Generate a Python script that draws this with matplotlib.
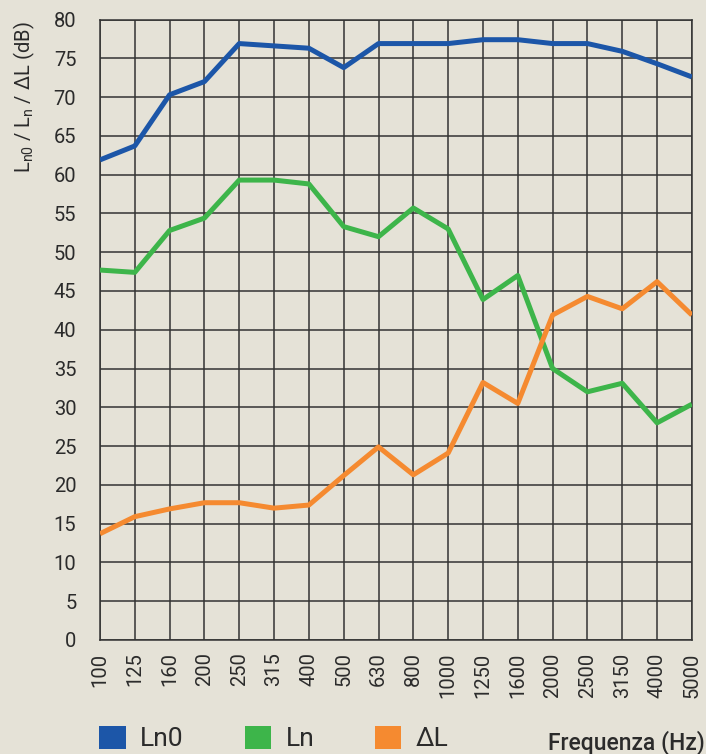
import matplotlib.pyplot as plt
from matplotlib.patches import Patch

plt.rcParams['font.family'] = ['Roboto', 'DejaVu Sans']

BG = '#e5e2d7'
COLOR_DICT = {'Ln0': '#1c56a8', 'Ln': '#3db54a', 'dL': '#f58a30'}

freqs = ['100', '125', '160', '200', '250', '315', '400', '500', '630', '800',
         '1000', '1250', '1600', '2000', '2500', '3150', '4000', '5000']
ln0 = [61.9, 63.7, 70.3, 72.0, 76.9, 76.6, 76.3, 73.8, 76.9, 76.9,
       76.9, 77.4, 77.4, 76.9, 76.9, 75.9, 74.3, 72.6]
ln = [47.7, 47.4, 52.8, 54.4, 59.3, 59.3, 58.8, 53.3, 52.0, 55.7,
      53.0, 43.9, 47.0, 35.0, 32.0, 33.1, 28.0, 30.4]
delta_l = [13.7, 15.9, 16.9, 17.7, 17.7, 17.0, 17.4, 21.2, 24.9, 21.3,
           24.1, 33.2, 30.5, 41.9, 44.3, 42.7, 46.2, 41.9]

fig = plt.figure(figsize=(7.06, 7.54), dpi=100, facecolor=BG)
ax = fig.add_axes([0.1416, 0.1512, 0.8384, 0.8229])
ax.set_facecolor(BG)

x = range(len(freqs))
ax.plot(x, ln0, color=COLOR_DICT['Ln0'], linewidth=3.6, solid_capstyle='butt', zorder=3)
ax.plot(x, ln, color=COLOR_DICT['Ln'], linewidth=3.6, solid_capstyle='butt', zorder=3)
ax.plot(x, delta_l, color=COLOR_DICT['dL'], linewidth=3.6, solid_capstyle='butt', zorder=3)

ax.set_xlim(0, len(freqs) - 1)
ax.set_ylim(0, 80)
ax.set_xticks(list(x))
ax.set_xticklabels(freqs, rotation=90, va='top')
ax.set_yticks(range(0, 81, 5))
ax.tick_params(length=0, labelsize=14.5, colors='#2b2b2b')
ax.tick_params(axis='y', pad=17)
ax.tick_params(axis='x', pad=9)
ax.grid(color='#333333', linewidth=1.1)
ax.set_axisbelow(True)
for s in ax.spines.values():
    s.set_color('#333333')
    s.set_linewidth(1.1)

ax.set_ylabel('L$_{\\mathregular{n0}}$ / L$_{\\mathregular{n}}$ / ΔL (dB)', fontsize=14.5,
              color='#2b2b2b')
ax.yaxis.set_label_coords(-0.106, 0.874)

handles = [Patch(facecolor=COLOR_DICT[k], edgecolor='none') for k in ['Ln0', 'Ln', 'dL']]
fig.legend(handles, ['Ln0', 'Ln', 'ΔL'], loc='lower left', bbox_to_anchor=(0.122, -0.014),
           ncol=3, frameon=False, fontsize=19, handlelength=1.0, handleheight=1.0,
           handletextpad=0.55, columnspacing=2.3, borderpad=0, labelcolor='#2b2b2b')

fig.text(0.999, 0.0053, 'Frequenza (Hz)', ha='right', va='baseline', fontsize=16.5,
         fontweight='medium', color='#2b2b2b')

fig.savefig('out.png', dpi=100, facecolor=BG)
